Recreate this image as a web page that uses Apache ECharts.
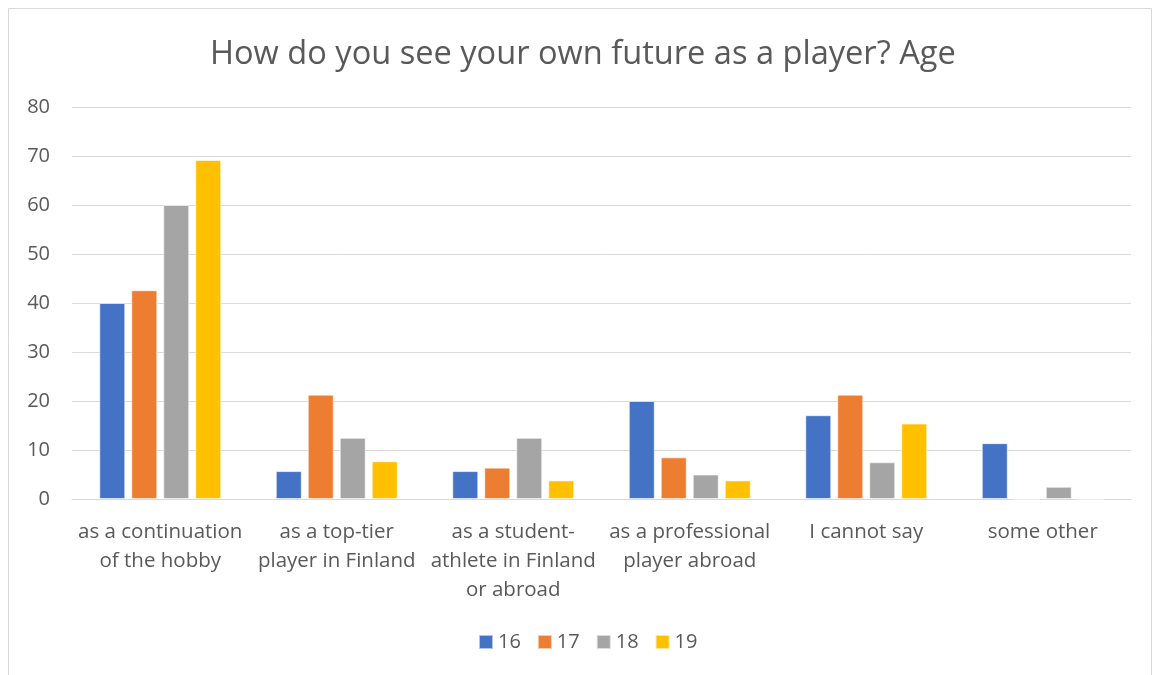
<!DOCTYPE html>
<html>
<head>
<meta charset="utf-8">
<script src="https://cdn.jsdelivr.net/npm/echarts@6/dist/echarts.min.js"></script>
<style>
  html, body { margin: 0; padding: 0; background: #fff; }
  #chart { width: 1153px; height: 675px; }
</style>
</head>
<body>
<div id="chart"></div>
<script>
// Answer categories and age-group shares (%)
const categories = [
  'as a continuation\nof the hobby',
  'as a top-tier\nplayer in Finland',
  'as a student-\nathlete in Finland\nor abroad',
  'as a professional\nplayer abroad',
  'I cannot say',
  'some other'
];
const ageGroups = ['16', '17', '18', '19'];
const age16 = [40.0, 5.7, 5.7, 20.0, 17.1, 11.4];
const age17 = [42.6, 21.3, 6.4, 8.5, 21.3, 0];
const age18 = [60.0, 12.5, 12.5, 5.0, 7.5, 2.5];
const age19 = [69.2, 7.7, 3.8, 3.8, 15.4, 0];
const colors = ['#4472C4', '#ED7D31', '#A5A5A5', '#FFC000'];

const seriesValues = [age16, age17, age18, age19];
const font = '"Open Sans", "Liberation Sans", sans-serif';
const textColor = '#595959';

const chart = echarts.init(document.getElementById('chart'), null, { renderer: 'canvas' });
chart.setOption({
  backgroundColor: '#fff',
  animation: false,
  color: colors,
  title: {
    text: 'How do you see your own future as a player? Age',
    left: 205,
    top: 33,
    textStyle: { fontFamily: font, fontSize: 32.6, fontWeight: 'normal', color: textColor }
  },
  graphic: [{
    type: 'rect',
    shape: { x: 8.5, y: 8.5, width: 1143, height: 700 },
    style: { fill: 'none', stroke: '#d9d9d9', lineWidth: 1 },
    silent: true
  }],
  legend: {
    data: ageGroups,
    bottom: 18,
    left: 473,
    icon: 'rect',
    itemWidth: 14,
    itemHeight: 14,
    itemGap: 16,
    itemTextGap: 6,
    textStyle: { fontFamily: font, fontSize: 20, color: textColor }
  },
  grid: { left: 72, right: 22, top: 107, bottom: 176 },
  xAxis: {
    type: 'category',
    data: categories,
    axisLine: { show: true, lineStyle: { color: '#d9d9d9', width: 1 } },
    axisTick: { show: false },
    axisLabel: {
      interval: 0,
      margin: 19,
      fontFamily: font,
      fontSize: 20.5,
      lineHeight: 29,
      color: textColor
    }
  },
  yAxis: {
    type: 'value',
    min: 0,
    max: 80,
    interval: 10,
    axisLine: { show: false },
    axisTick: { show: false },
    splitLine: { lineStyle: { color: '#d9d9d9', width: 1 } },
    axisLabel: { fontFamily: font, fontSize: 20, color: textColor, margin: 22 }
  },
  series: ageGroups.map((name, i) => ({
    name,
    type: 'bar',
    data: seriesValues[i],
    barWidth: 26,
    barGap: '23%',
    itemStyle: { color: colors[i], borderColor: 'rgba(255,255,255,0.6)', borderWidth: 1 }
  }))
});
</script>
</body>
</html>
